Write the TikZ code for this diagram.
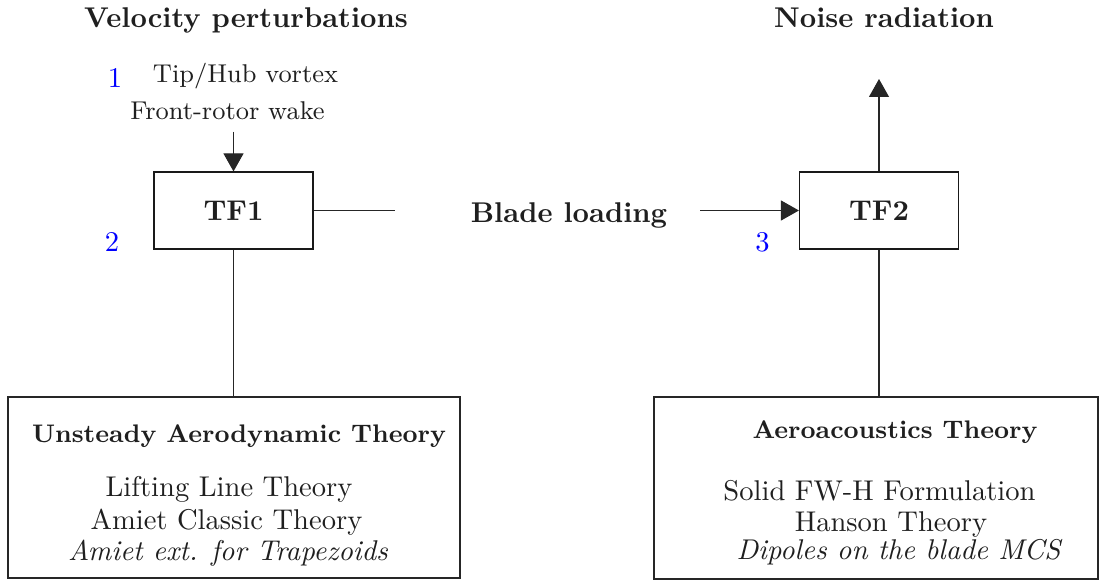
\documentclass[tikz,border=0pt]{standalone}
\usetikzlibrary{arrows.meta}
\definecolor{numblue}{RGB}{0,0,255}
\tikzset{
  every node/.style={text=black!88},
  lbl/.style={anchor=base, font=\fontsize{10}{12}\selectfont},
  itlbl/.style={anchor=base, font=\fontsize{10}{12}\selectfont\itshape},
  head/.style={anchor=base, font=\fontsize{10}{12}\selectfont\bfseries},
  smalllbl/.style={anchor=base, font=\fontsize{9}{11}\selectfont},
  boxtitle/.style={anchor=base, font=\fontsize{8.9}{11}\selectfont\bfseries},
  num/.style={anchor=base, text=numblue, font=\fontsize{10}{12}\selectfont},
  tfbox/.style={draw=black!90, line width=0.4pt, minimum width=55.65pt,
    minimum height=26.95pt, inner sep=0pt, font=\fontsize{10}{12}\selectfont\bfseries},
  bigbox/.style={draw=black!85, line width=0.45pt, inner sep=0pt},
  link/.style={draw=black!85, line width=0.4pt},
  arr/.style={link, -{Triangle[width=7pt,length=6.3pt]}, fill=black},
}
\begin{document}
\begin{tikzpicture}[x=0.35pt,y=-0.35pt]
\path[use as bounding box] (0,0) rectangle (1099,581);

% headings
\node[head] (vp) at (246,28) {Velocity perturbations};
\node[head] (nr) at (884,28) {Noise radiation};

% inputs to TF1
\node[num] (n1) at (115,88) {1};
\node[smalllbl] (tip) at (245.5,83) {Tip/Hub vortex};
\node[smalllbl] (wake) at (227.5,120) {Front-rotor wake};

% transfer functions
\node[tfbox] (tf1) at (233.5,210.5) {TF1};
\node[tfbox] (tf2) at (879,210.5) {TF2};
\node[num] (n2) at (112,252) {2};
\node[num] (n3) at (762.5,252) {3};
\node[head] (bl) at (569,223) {Blade loading};

% theory boxes
\node[bigbox, minimum width=158.2pt, minimum height=63.35pt] (uat) at (234,487.5) {};
\node[bigbox, minimum width=155.4pt, minimum height=63.7pt] (aat) at (876,488) {};

\node[boxtitle] (uatt) at (239,443) {Unsteady Aerodynamic Theory};
\node[lbl] (llt) at (229,497) {Lifting Line Theory};
\node[lbl] (act) at (226.5,530) {Amiet Classic Theory};
\node[itlbl] (aet) at (228,561) {Amiet ext. for Trapezoids};

\node[boxtitle] (aatt) at (895,439) {Aeroacoustics Theory};
\node[lbl] (fwh) at (879.5,501) {Solid FW-H Formulation};
\node[lbl] (han) at (891,532) {Hanson Theory};
\node[itlbl] (dip) at (898.5,560) {Dipoles on the blade MCS};

% connectors
\coordinate (wakeend) at (233.5,132);
\coordinate (blL) at (395,210.5);
\coordinate (blR) at (700,210.5);
\coordinate (radtip) at (879,79);
\draw[arr] (wakeend) -- (tf1.north);
\draw[link] (tf1.east) -- (blL);
\draw[arr] (blR) -- (tf2.west);
\draw[arr] (tf2.north) -- (radtip);
\draw[link] (tf1.south) -- (tf1.south |- uat.north);
\draw[link] (tf2.south) -- (tf2.south |- aat.north);
\end{tikzpicture}
\end{document}
